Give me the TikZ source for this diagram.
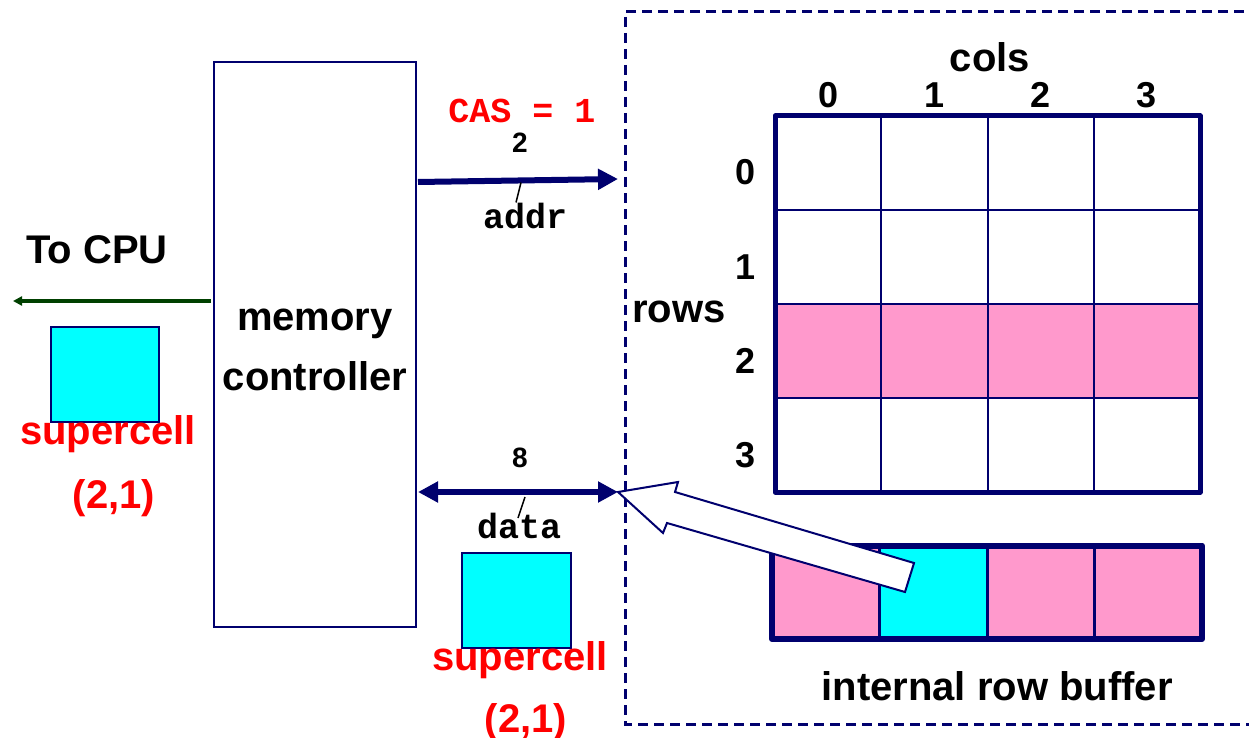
\documentclass[tikz,border=0pt]{standalone}
\usepackage{fontspec}
\setmainfont{Liberation Sans}
\setmonofont{Liberation Mono}
\usetikzlibrary{arrows.meta, positioning, calc}
\definecolor{navy}{RGB}{0,0,110}
\definecolor{cellpink}{RGB}{255,153,204}
\definecolor{cellcyan}{RGB}{0,255,255}
\definecolor{cpugreen}{RGB}{0,64,0}

\begin{document}
\begin{tikzpicture}[x=1pt, y=-1pt,
            lbl/.style={font=\fontsize{40}{42}\selectfont\bfseries, inner sep=0pt},
            redlbl/.style={lbl, text=red},
            numlbl/.style={font=\fontsize{36}{38}\selectfont\bfseries, inner sep=0pt},
            buswd/.style={font=\fontsize{28}{30}\selectfont\bfseries, inner sep=0pt},
            mono/.style={font=\fontsize{35}{36}\selectfont\ttfamily\bfseries, inner sep=0pt},
            box/.style={draw=navy, line width=2pt, inner sep=0pt, outer sep=0pt},
            cell/.style={box, minimum width=106.25pt, minimum height=94pt},
            bufcell/.style={draw=navy, line width=3pt, inner sep=0pt, outer sep=0pt,
                            minimum width=107.5pt, minimum height=93.5pt},
            bus/.style={navy, line width=6pt},
            tick/.style={black, line width=1.5pt}
        ]
            \useasboundingbox (0,0) rectangle (1249,738);
            % DRAM chip outline
            \draw[navy, line width=3pt, dash pattern=on 10pt off 6pt]
                (1260,12) -- (625,12) -- (625,724) -- (1260,724);
            % Memory controller
            \node[box, minimum width=202pt, minimum height=565pt] (mc) at (315,344.5) {};
            \node[lbl, align=center, font=\fontsize{40}{60}\selectfont\bfseries] (mclbl) at (315,350) {memory\\controller};
            % To CPU
            \coordinate (cpuin) at (211,301);
            \coordinate (cpuout) at (13,301);
            \draw[cpugreen, line width=4pt, -{Triangle[length=9pt,width=9pt]}] (cpuin) -- (cpuout);
            \node[lbl, anchor=base] (cpu) at (97,263) {To CPU};
            \node[box, fill=cellcyan, minimum width=108pt, minimum height=95pt] (sc1) at (105,374.5) {};
            \node[redlbl, anchor=base] (sc1lbl) at (108,444) {supercell};
            \node[redlbl, anchor=base] (sc1pos) at (114,508) {(2,1)};
            % Address bus
            \coordinate (addrin) at (418,182);
            \coordinate (addrout) at (618,179);
            \draw[bus, -{Triangle[length=20pt,width=20pt]}] (addrin) -- (addrout);
            \coordinate (addrmid) at ($(addrin)!0.5!(addrout)$);
            \draw[tick] ($(addrmid)+(3,2)$) -- ++(-5,20);
            \node[mono, text=red, anchor=base] (cas) at (522,123) {CAS = 1};
            \node[buswd, anchor=base] (w2) at (520,153) {2};
            \node[mono, anchor=base] (addr) at (525,228) {addr};
            % Data bus
            \coordinate (datal) at (418,492);
            \coordinate (datar) at (618,492);
            \draw[bus, {Triangle[length=20pt,width=20pt]}-{Triangle[length=20pt,width=20pt]}] (datal) -- (datar);
            \coordinate (datamid) at ($(datal)!0.5!(datar)$);
            \draw[tick] ($(datamid)+(7,5)$) -- ++(-7,21);
            \node[buswd, anchor=base] (w8) at (520,467) {8};
            \node[mono, anchor=base] (data) at (519,538) {data};
            \node[box, fill=cellcyan, minimum width=109pt, minimum height=95pt] (sc2) at (516.5,600.5) {};
            \node[redlbl, anchor=base] (sc2lbl) at (520,670) {supercell};
            \node[redlbl, anchor=base] (sc2pos) at (526,732) {(2,1)};
            % Supercell array
            \fill[cellpink] (775,304) rectangle (1200,398);
            \foreach \r in {0,...,3} {
                \foreach \c in {0,...,3} {
                    \node[cell] (g\r\c) at ({828.125+106.25*\c}, {163+94*\r}) {};
                }
                \node[numlbl, anchor=base] (rl\r) at (745, {185+94*\r}) {\r};
                \node[numlbl, anchor=base] (cl\r) at ({828.125+106.25*\r}, 108) {\r};
            }
            \draw[navy, line width=5pt, line join=round] (g00.north west) rectangle (g33.south east);
            \node[lbl, anchor=base] (cols) at (990,72) {cols};
            \node[lbl, anchor=base] (rows) at (679,322) {rows};
            % Internal row buffer
            \foreach \i/\col in {0/cellpink, 1/cellcyan, 2/cellpink, 3/cellpink} {
                \node[bufcell, fill=\col] (b\i) at ({825.75+107.5*\i}, 592.25) {};
            }
            \draw[navy, line width=6pt, line join=round] (b0.north west) rectangle (b3.south east);
            \node[lbl, anchor=base] (buflbl) at (997,700) {internal row buffer};
            % Copy out to data bus
            \draw[navy, line width=2pt, fill=white, line join=miter]
                (datar) -- ($(datar)+(60,-10)$) -- ($(datar)+(57,0)$) -- ($(datar)+(296,71)$)
                -- ($(datar)+(287,100)$) -- ($(datar)+(49,31)$) -- ($(datar)+(45,41)$) -- cycle;
        \end{tikzpicture}
\end{document}
